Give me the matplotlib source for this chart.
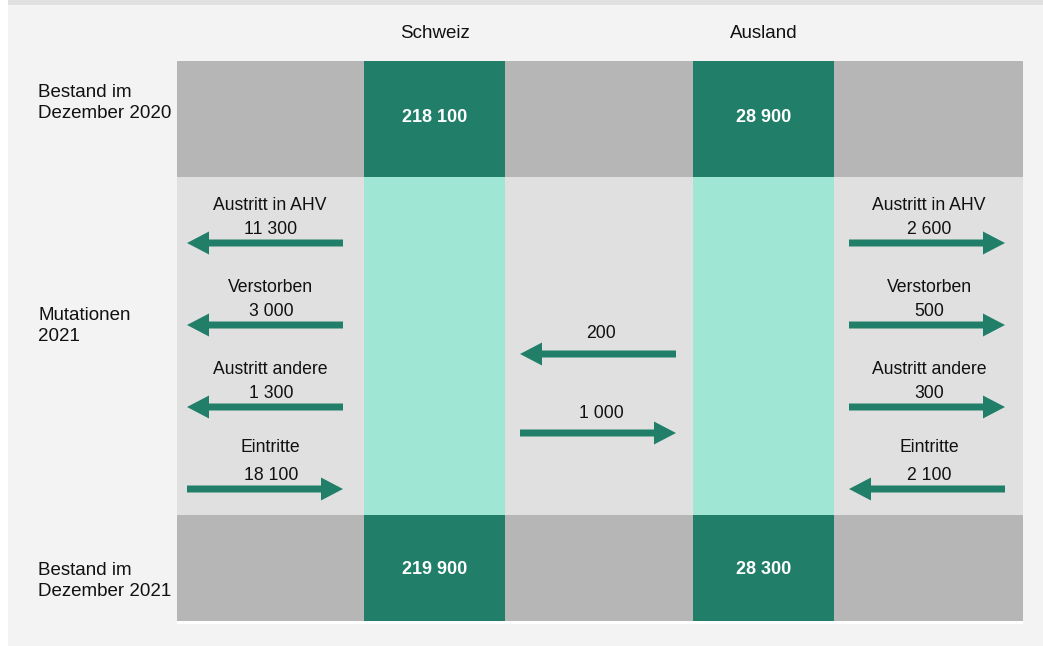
import matplotlib.pyplot as plt
from matplotlib.patches import Rectangle, FancyArrow

plt.rcParams['font.family'] = ['Liberation Sans', 'DejaVu Sans']

# data
columns = ["Schweiz", "Ausland"]
stock_2020 = ["218 100", "28 900"]
stock_2021 = ["219 900", "28 300"]
row_labels = ["Bestand im\nDezember 2020", "Mutationen\n2021", "Bestand im\nDezember 2021"]
flow_labels = ["Austritt in AHV", "Verstorben", "Austritt andere", "Eintritte"]
flows_ch = ["11 300", "3 000", "1 300", "18 100"]
flows_ausland = ["2 600", "500", "300", "2 100"]
# direction: -1 = arrow to the left, +1 = arrow to the right
dir_ch = [-1, -1, -1, 1]
dir_ausland = [1, 1, 1, -1]
transfer_values = ["200", "1 000"]
transfer_dir = [-1, 1]

# colours
c_dark = "#217f69"
c_mint = "#a0e6d4"
c_gray = "#b6b6b6"
c_light = "#e0e0e0"
c_bg = "#f3f3f3"

W, H = 1043, 646
fig = plt.figure(figsize=(W / 100, H / 100), dpi=100, facecolor="white")
ax = fig.add_axes([0, 0, 1, 1])
ax.set_xlim(0, W)
ax.set_ylim(H, 0)
ax.axis("off")

# background panel
ax.add_patch(Rectangle((8, 0), W - 8, 5, color=c_light, lw=0))
ax.add_patch(Rectangle((8, 5), W - 8, H - 5, color=c_bg, lw=0))

# grid layout
xe = [177, 364, 505, 693, 834, 1023]
ye = [61, 177, 515, 621]

ax.add_patch(Rectangle((xe[0], ye[2]), xe[-1] - xe[0], 3 + ye[3] - ye[2], color="white", lw=0))
for r in range(3):
    for c in range(5):
        green = c in (1, 3)
        if r == 1:
            col = c_mint if green else c_light
        else:
            col = c_dark if green else c_gray
        ax.add_patch(Rectangle((xe[c], ye[r]), xe[c + 1] - xe[c], ye[r + 1] - ye[r], color=col, lw=0))

# header
for i, name in enumerate(columns):
    cx = (xe[1 + 2 * i] + xe[2 + 2 * i]) / 2
    ax.text(cx, 33, name, ha="center", va="center", fontsize=13.5, color="#111111")

# stocks
for i in range(2):
    cx = (xe[1 + 2 * i] + xe[2 + 2 * i]) / 2
    ax.text(cx, (ye[0] + ye[1]) / 2 - 1, stock_2020[i], ha="center", va="center",
            fontsize=13, fontweight="bold", color="white")
    ax.text(cx, (ye[2] + ye[3]) / 2 + 2, stock_2021[i], ha="center", va="center",
            fontsize=13, fontweight="bold", color="white")

# row labels
row_y = [103, 326, 581]
for lab, y in zip(row_labels, row_y):
    ax.text(38, y, lab, ha="left", va="center", fontsize=13.5, color="#111111", linespacing=1.35)


def arrow(x0, x1, y):
    ax.add_patch(FancyArrow(x0, y, x1 - x0, 0, width=7, head_width=23, head_length=22,
                            length_includes_head=True, color=c_dark, lw=0))


# side flows
arrow_y = [243, 325, 407, 489]
for k in range(4):
    y = arrow_y[k]
    a, b = 187, 343
    if dir_ch[k] < 0:
        arrow(b, a, y)
    else:
        arrow(a, b, y)
    lx = (a + b) / 2 + 6
    a2, b2 = 849, 1005
    if dir_ausland[k] > 0:
        arrow(a2, b2, y)
    else:
        arrow(b2, a2, y)
    lx2 = (a2 + b2) / 2 + 2
    vy = y - 14
    ly = y - 14 - (27 if k == 3 else 23)
    ax.text(lx - 1, ly, flow_labels[k], ha="center", va="center", fontsize=12.7, color="#111111")
    ax.text(lx, vy, flows_ch[k], ha="center", va="center", fontsize=12.7, color="#111111")
    ax.text(lx2, ly, flow_labels[k], ha="center", va="center", fontsize=12.7, color="#111111")
    ax.text(lx2, vy, flows_ausland[k], ha="center", va="center", fontsize=12.7, color="#111111")

# transfers between Schweiz and Ausland
trans_y = [354, 433]
for v, d, y in zip(transfer_values, transfer_dir, trans_y):
    a, b = 520, 676
    if d < 0:
        arrow(b, a, y)
    else:
        arrow(a, b, y)
    ax.text((a + b) / 2 + 3, y - 20, v, ha="center", va="center", fontsize=12.7, color="#111111")

fig.savefig("out.png", dpi=100, facecolor=fig.get_facecolor())
